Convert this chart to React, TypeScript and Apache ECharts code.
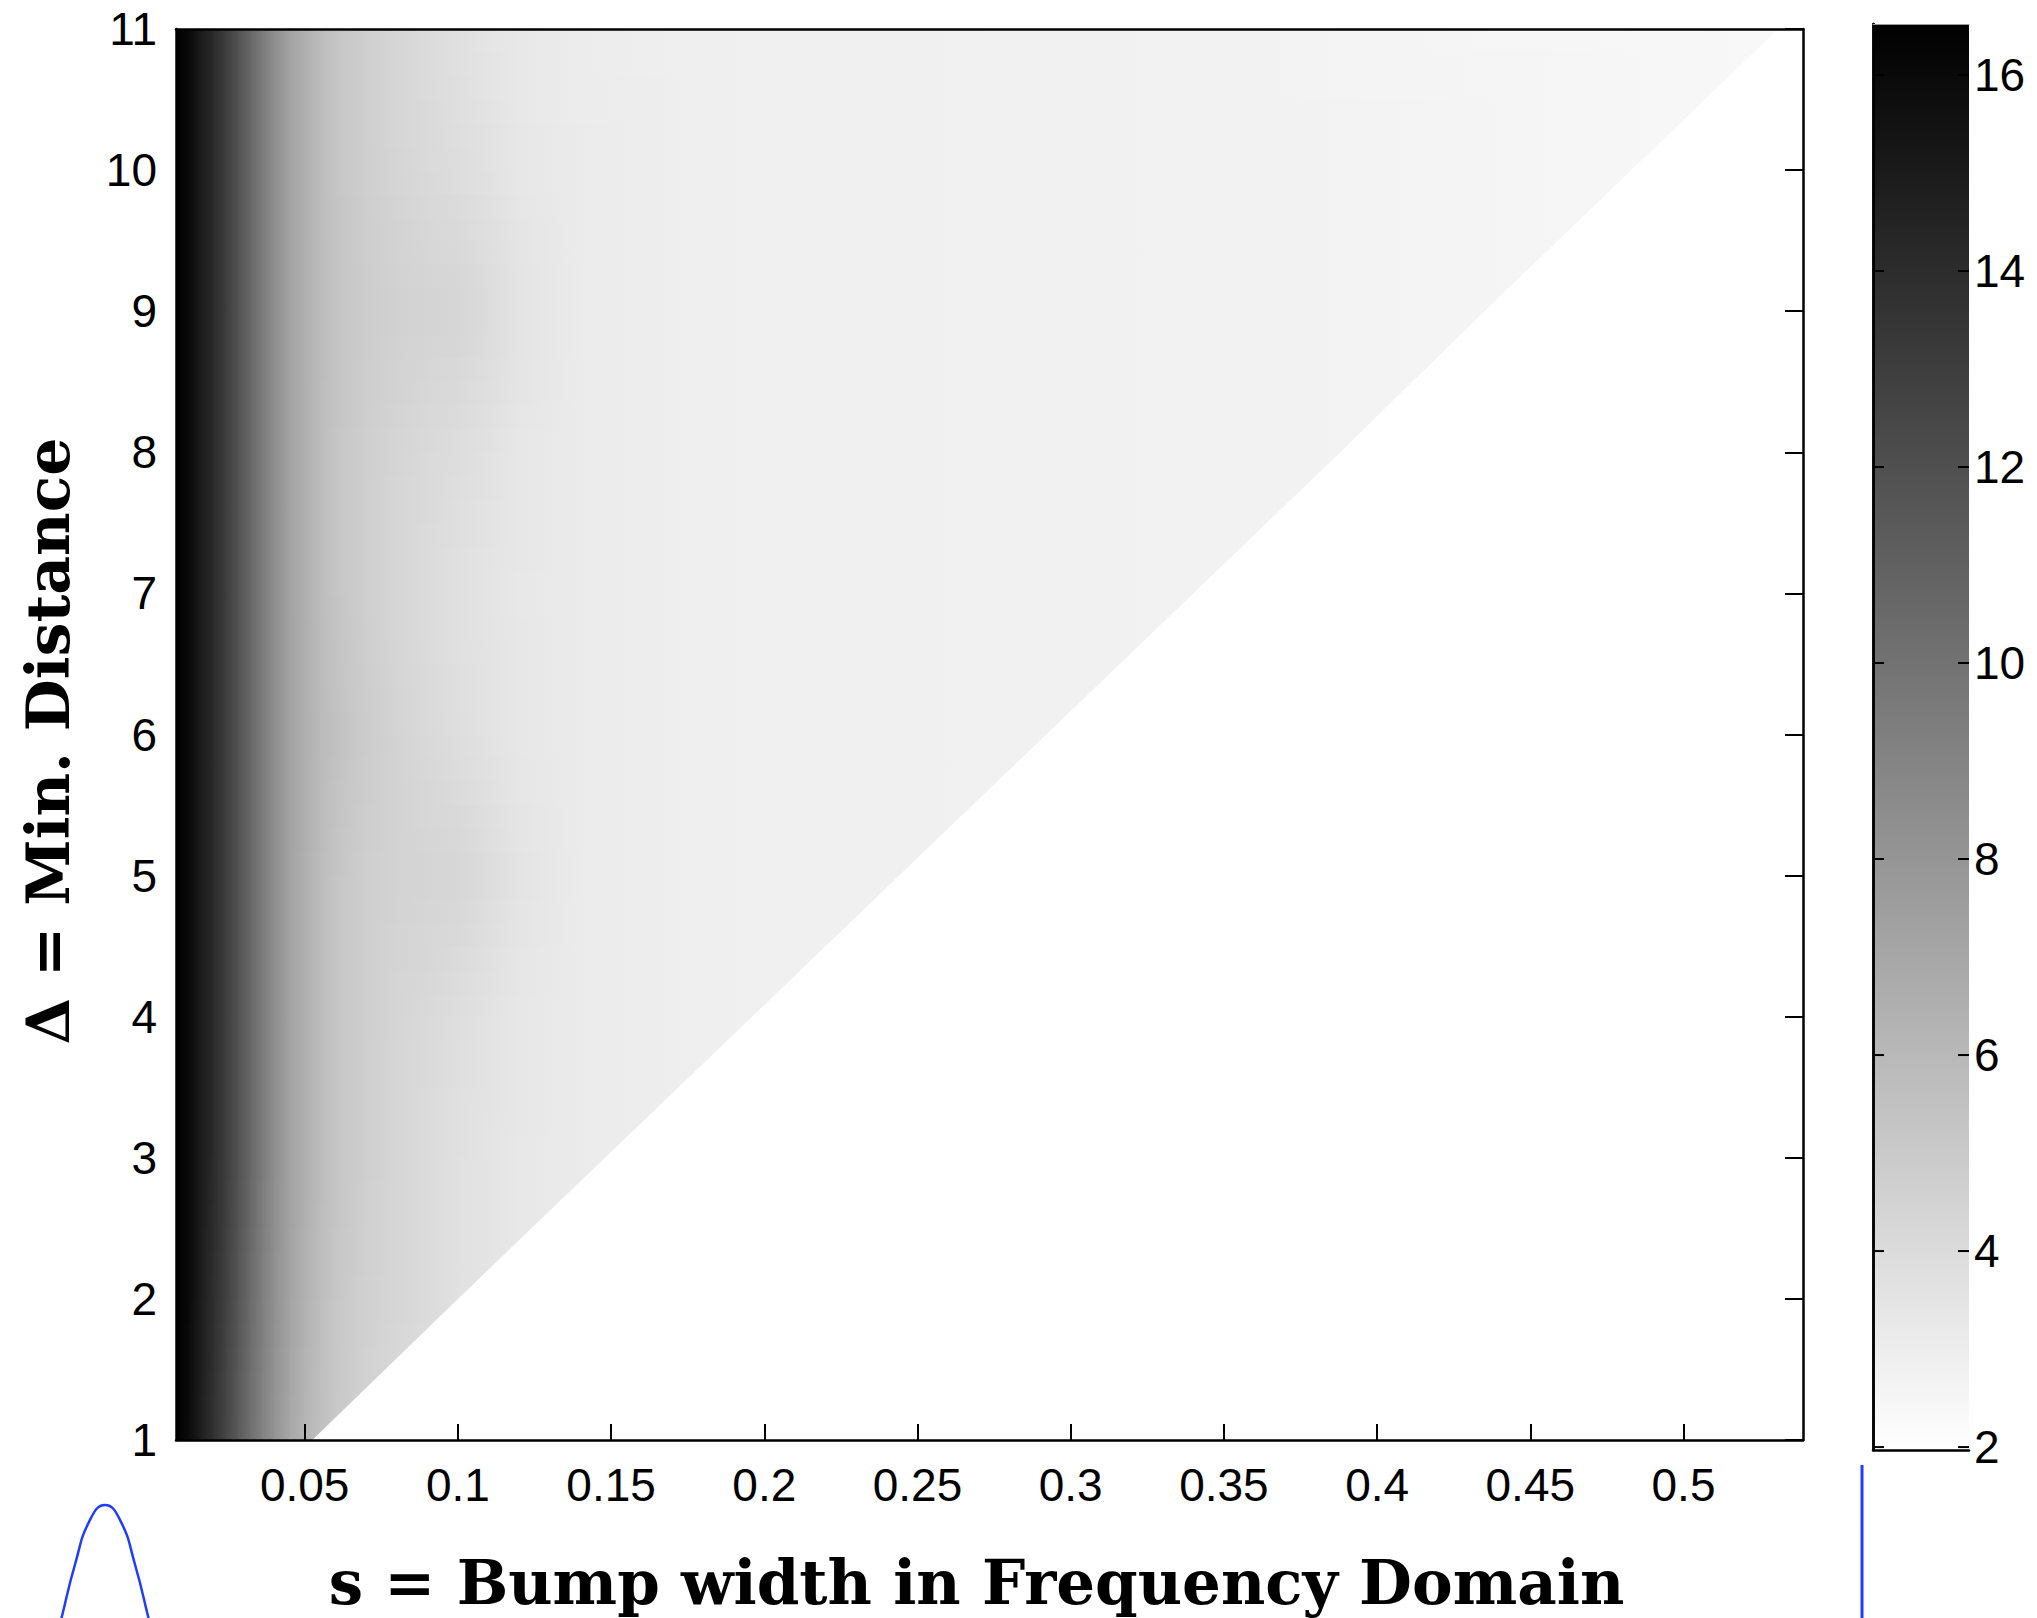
import React, { useEffect, useRef } from "react";
import * as echarts from "echarts";

// ---------- data ----------
const S_COLS = [0.008, 0.012, 0.016, 0.02, 0.024, 0.028, 0.032, 0.036, 0.04, 0.045, 0.05, 0.055, 0.06, 0.07, 0.08, 0.09, 0.1, 0.11, 0.12, 0.14, 0.16, 0.18, 0.2, 0.25, 0.3, 0.35, 0.4, 0.45, 0.5, 0.539];
const DELTA_ROWS = [1, 2, 3, 4, 5, 6, 7, 8, 9, 10, 11];

const ROW_D1 = [16.5, 15.9, 14.8, 13.7, 12.6, 11.4, 10.2, 9.1, 8.1, 7.0, 6.2, 5.6, 5.1, 4.5, 4.2, 3.95, 3.75];
const ROW_D2 = [16.5, 16.0, 14.9, 13.9, 12.9, 11.7, 10.5, 9.3, 8.3, 7.2, 6.4, 5.7, 5.2, 4.6, 4.3, 4.0, 3.7, 3.5, 3.3, 3.1, 2.95];
const ROW_D3 = [16.5, 16.0, 15.0, 14.1, 13.1, 11.9, 10.7, 9.5, 8.4, 7.3, 6.5, 5.8, 5.3, 4.7, 4.3, 4.0, 3.7, 3.5, 3.3, 3.1, 3.0, 2.9, 2.85];
const ROW_D4 = [16.5, 16.0, 15.0, 14.1, 13.1, 11.9, 10.7, 9.5, 8.4, 7.3, 6.5, 5.8, 5.3, 4.7, 4.35, 4.1, 3.85, 3.6, 3.35, 3.1, 3.0, 2.9, 2.85, 2.8];
const ROW_D5 = [16.5, 16.0, 15.0, 14.1, 13.1, 11.9, 10.7, 9.5, 8.4, 7.3, 6.5, 5.8, 5.3, 4.7, 4.5, 4.4, 4.3, 3.95, 3.5, 3.1, 3.0, 2.9, 2.85, 2.8, 2.75];
const ROW_D6 = [16.5, 16.0, 15.0, 14.1, 13.1, 11.9, 10.7, 9.5, 8.4, 7.3, 6.55, 5.9, 5.5, 4.9, 4.45, 4.1, 3.85, 3.6, 3.35, 3.1, 3.0, 2.9, 2.85, 2.8, 2.75, 2.7];
const ROW_D7 = [16.5, 16.0, 15.0, 14.1, 13.1, 11.9, 10.7, 9.5, 8.4, 7.3, 6.5, 5.8, 5.3, 4.7, 4.3, 4.0, 3.7, 3.5, 3.3, 3.1, 3.0, 2.9, 2.85, 2.8, 2.75, 2.7, 2.65];
const ROW_D8 = [16.5, 16.0, 15.0, 14.1, 13.1, 11.9, 10.7, 9.5, 8.4, 7.3, 6.5, 5.8, 5.3, 4.7, 4.35, 4.1, 3.9, 3.65, 3.35, 3.1, 3.0, 2.9, 2.85, 2.8, 2.75, 2.7, 2.65, 2.55];
const ROW_D9 = [16.5, 16.0, 15.0, 14.1, 13.1, 11.9, 10.7, 9.5, 8.4, 7.3, 6.5, 5.85, 5.35, 4.85, 4.6, 4.45, 4.35, 4.0, 3.55, 3.1, 3.0, 2.9, 2.85, 2.8, 2.75, 2.7, 2.65, 2.55, 2.45];
const ROW_D10 = [16.5, 16.0, 15.0, 14.1, 13.1, 11.9, 10.7, 9.5, 8.4, 7.3, 6.5, 5.8, 5.3, 4.7, 4.35, 4.1, 3.9, 3.65, 3.35, 3.1, 3.0, 2.9, 2.85, 2.8, 2.75, 2.7, 2.65, 2.55, 2.45, 2.35];
const ROW_D11 = [16.5, 16.0, 15.0, 14.1, 13.1, 11.9, 10.7, 9.5, 8.4, 7.3, 6.5, 5.8, 5.3, 4.7, 4.3, 4.0, 3.7, 3.45, 3.25, 3.05, 2.95, 2.9, 2.85, 2.8, 2.75, 2.7, 2.6, 2.5, 2.4, 2.3];
const VALUES = [ROW_D1, ROW_D2, ROW_D3, ROW_D4, ROW_D5, ROW_D6, ROW_D7, ROW_D8, ROW_D9, ROW_D10, ROW_D11];

// s where the shaded region ends, for each Δ row
const S_EDGE = [0.0525, 0.1, 0.148, 0.196, 0.244, 0.292, 0.34, 0.388, 0.435, 0.483, 0.531];

const X_TICKS = [0.05, 0.1, 0.15, 0.2, 0.25, 0.3, 0.35, 0.4, 0.45, 0.5];
const CBAR_TICKS = [2, 4, 6, 8, 10, 12, 14, 16];

const X_MIN = 0.008;
const X_MAX = 0.539;
const Y_MIN = 1;
const Y_MAX = 11;
const V_MIN = 1.97;
const V_MAX = 16.52;

// blue fragments of the neighbouring figure (bump curve and a spike)
const BUMP_X = [-1.0, -0.8, -0.6, -0.4, -0.2, 0, 0.2, 0.4, 0.6, 0.8, 1.0];
const BUMP_Y = [0.25, 0.41, 0.6, 0.8, 0.95, 1.0, 0.95, 0.8, 0.6, 0.41, 0.25];
const SPIKE_X = [0, 0];
const SPIKE_Y = [0, 1];

// ---------- helpers ----------
const SUB_STRIPS = 6; // shading sub-division of each band between two Δ rows

function gray(v: number): string {
  const t = Math.min(1, Math.max(0, (v - V_MIN) / (V_MAX - V_MIN)));
  const g = Math.round(255 * (1 - t));
  return `rgb(${g},${g},${g})`;
}

// one item per cell between two neighbouring Δ rows and two neighbouring s columns
const CELLS: number[][] = [];
for (let j = 0; j < VALUES.length - 1; j++) {
  const lo = VALUES[j];
  const hi = VALUES[j + 1];
  const n = Math.min(lo.length, hi.length);
  for (let i = 0; i < n - 1; i++) {
    CELLS.push([S_COLS[i], S_COLS[i + 1], DELTA_ROWS[j], DELTA_ROWS[j + 1], lo[i], lo[i + 1], hi[i], hi[i + 1]]);
  }
}

const EDGE_PTS = S_EDGE.map((s, j) => [s, DELTA_ROWS[j]]);

const LABEL_FONT = "'Liberation Sans', Arial, Helvetica, sans-serif";
const TITLE_FONT = "'DejaVu Serif', 'Liberation Serif', serif";

function buildOption(): any {
  const axisLine = { show: true, lineStyle: { color: "#000", width: 2.5 } };
  return {
    animation: false,
    backgroundColor: "#ffffff",
    grid: [
      { left: 176, top: 29, width: 1627, height: 1415 },
      { left: 1873, top: 24, width: 96, height: 1426 },
      { left: 30, top: 1505, width: 150, height: 113 },
      { left: 1850, top: 1465, width: 24, height: 153 },
    ],
    xAxis: [
      {
        gridIndex: 0,
        type: "value",
        min: X_MIN,
        max: X_MAX,
        position: "bottom",
        z: 10,
        axisLine,
        axisTick: { show: true, inside: true, length: 16, customValues: X_TICKS, lineStyle: { color: "#000", width: 2 } },
        axisLabel: {
          show: true,
          customValues: X_TICKS,
          formatter: (v: number) => String(v),
          fontSize: 46,
          fontFamily: LABEL_FONT,
          color: "#000",
          margin: 22,
        },
        splitLine: { show: false },
        name: "s = Bump width in Frequency Domain",
        nameLocation: "middle",
        nameGap: 112,
        nameTextStyle: {
          fontSize: 61,
          fontWeight: "bold",
          fontFamily: TITLE_FONT,
          color: "#000",
          padding: [0, 26, 0, 0],
        },
      },
      {
        gridIndex: 0,
        type: "value",
        min: X_MIN,
        max: X_MAX,
        position: "top",
        z: 10,
        axisLine,
        axisTick: { show: false },
        axisLabel: { show: false },
        splitLine: { show: false },
      },
      {
        gridIndex: 1,
        type: "value",
        min: 0,
        max: 1,
        position: "bottom",
        z: 10,
        axisLine,
        axisTick: { show: false },
        axisLabel: { show: false },
        splitLine: { show: false },
      },
      {
        gridIndex: 1,
        type: "value",
        min: 0,
        max: 1,
        position: "top",
        z: 10,
        axisLine: { show: true, lineStyle: { color: "#999", width: 1 } },
        axisTick: { show: false },
        axisLabel: { show: false },
        splitLine: { show: false },
      },
      { gridIndex: 2, type: "value", min: -1, max: 1, show: false },
      { gridIndex: 3, type: "value", min: -1, max: 1, show: false },
    ],
    yAxis: [
      {
        gridIndex: 0,
        type: "value",
        min: Y_MIN,
        max: Y_MAX,
        interval: 1,
        position: "left",
        z: 10,
        axisLine,
        axisTick: { show: false },
        axisLabel: { show: true, fontSize: 46, fontFamily: LABEL_FONT, color: "#000", margin: 19 },
        splitLine: { show: false },
        name: "Δ = Min. Distance",
        nameLocation: "middle",
        nameGap: 98,
        nameTextStyle: {
          fontSize: 60,
          fontWeight: "bold",
          fontFamily: TITLE_FONT,
          color: "#000",
          padding: [0, 13, 0, 0],
        },
      },
      {
        gridIndex: 0,
        type: "value",
        min: Y_MIN,
        max: Y_MAX,
        interval: 1,
        position: "right",
        z: 10,
        axisLine,
        axisTick: { show: true, inside: true, length: 18, lineStyle: { color: "#000", width: 2 } },
        axisLabel: { show: false },
        splitLine: { show: false },
      },
      {
        gridIndex: 1,
        type: "value",
        min: V_MIN,
        max: V_MAX,
        position: "left",
        z: 10,
        axisLine,
        axisTick: { show: false },
        axisLabel: { show: false },
        splitLine: { show: false },
      },
      {
        gridIndex: 1,
        type: "value",
        min: V_MIN,
        max: V_MAX,
        position: "right",
        z: 10,
        axisLine,
        axisTick: { show: false },
        axisLabel: {
          show: true,
          customValues: CBAR_TICKS,
          formatter: (v: number) => String(v),
          fontSize: 46,
          fontFamily: LABEL_FONT,
          color: "#000",
          margin: 5,
        },
        splitLine: { show: false },
      },
      { gridIndex: 2, type: "value", min: 0.62, max: 1, show: false },
      { gridIndex: 3, type: "value", min: 0, max: 1, show: false },
    ],
    series: [
      {
        type: "custom",
        name: "heat",
        xAxisIndex: 0,
        yAxisIndex: 0,
        clip: true,
        z: 1,
        data: CELLS,
        encode: { x: [0, 1], y: [2, 3] },
        renderItem: (params: any, api: any) => {
          const s0 = api.value(0);
          const s1 = api.value(1);
          const dLo = api.value(2);
          const dHi = api.value(3);
          const vBL = api.value(4);
          const vBR = api.value(5);
          const vTL = api.value(6);
          const vTR = api.value(7);
          const pBL = api.coord([s0, dLo]);
          const pTR = api.coord([s1, dHi]);
          const x0 = pBL[0];
          const w = pTR[0] - pBL[0] + 1;
          const yBottom = pBL[1];
          const yTop = pTR[1];
          const h = (yBottom - yTop) / SUB_STRIPS;
          const children: any[] = [];
          for (let k = 0; k < SUB_STRIPS; k++) {
            const t = (k + 0.5) / SUB_STRIPS;
            const vl = vBL + (vTL - vBL) * t;
            const vr = vBR + (vTR - vBR) * t;
            const yb = yBottom - h * k;
            children.push({
              type: "rect",
              shape: { x: x0, y: yb - h - 0.5, width: w, height: h + 1 },
              style: {
                fill: new echarts.graphic.LinearGradient(0, 0, 1, 0, [
                  { offset: 0, color: gray(vl) },
                  { offset: 1, color: gray(vr) },
                ]),
                stroke: null,
              },
            });
          }
          return { type: "group", children };
        },
      },
      {
        type: "custom",
        name: "mask",
        xAxisIndex: 0,
        yAxisIndex: 0,
        clip: true,
        z: 3,
        data: EDGE_PTS,
        encode: { x: 0, y: 1 },
        renderItem: (params: any, api: any) => {
          if (params.dataIndex !== 0) return null;
          const pts = EDGE_PTS.map((p) => api.coord(p));
          pts.push(api.coord([X_MAX + 0.01, Y_MAX]));
          pts.push(api.coord([X_MAX + 0.01, Y_MIN - 0.1]));
          pts.push(api.coord([EDGE_PTS[0][0], Y_MIN - 0.1]));
          return { type: "polygon", shape: { points: pts }, style: { fill: "#ffffff", stroke: null } };
        },
      },
      {
        type: "custom",
        name: "colorbar",
        xAxisIndex: 2,
        yAxisIndex: 2,
        z: 1,
        data: [[0, 1, V_MIN, V_MAX]],
        encode: { x: [0, 1], y: [2, 3] },
        renderItem: (params: any, api: any) => {
          const p0 = api.coord([api.value(0), api.value(3)]);
          const p1 = api.coord([api.value(1), api.value(2)]);
          const children: any[] = [
            {
              type: "rect",
              shape: { x: p0[0], y: p0[1], width: p1[0] - p0[0], height: p1[1] - p0[1] },
              style: {
                fill: new echarts.graphic.LinearGradient(0, 0, 0, 1, [
                  { offset: 0, color: gray(V_MAX) },
                  { offset: 1, color: gray(V_MIN) },
                ]),
              },
            },
          ];
          CBAR_TICKS.forEach((t) => {
            const y = api.coord([0, t])[1];
            children.push({
              type: "line",
              shape: { x1: p0[0], y1: y, x2: p0[0] + 11, y2: y },
              style: { stroke: "#000", lineWidth: 2 },
            });
            children.push({
              type: "line",
              shape: { x1: p1[0] - 11, y1: y, x2: p1[0], y2: y },
              style: { stroke: "#000", lineWidth: 2 },
            });
          });
          return { type: "group", children };
        },
      },
      {
        type: "line",
        name: "bump",
        xAxisIndex: 4,
        yAxisIndex: 4,
        data: BUMP_X.map((x, i) => [x, BUMP_Y[i]]),
        smooth: true,
        symbol: "none",
        clip: false,
        lineStyle: { color: "#1f3cff", width: 2.5 },
      },
      {
        type: "line",
        name: "spike",
        xAxisIndex: 5,
        yAxisIndex: 5,
        data: SPIKE_X.map((x, i) => [x, SPIKE_Y[i]]),
        symbol: "none",
        clip: false,
        lineStyle: { color: "#1f3cff", width: 3 },
      },
    ],
  };
}

export default function App() {
  const ref = useRef<HTMLDivElement>(null);
  useEffect(() => {
    if (!ref.current) return;
    const chart = echarts.init(ref.current, null, { renderer: "svg" });
    chart.setOption(buildOption());
    return () => chart.dispose();
  }, []);
  return (
    <div
      ref={ref}
      style={{ position: "absolute", left: 0, top: 0, width: 2037, height: 1618, background: "#ffffff" }}
    />
  );
}
